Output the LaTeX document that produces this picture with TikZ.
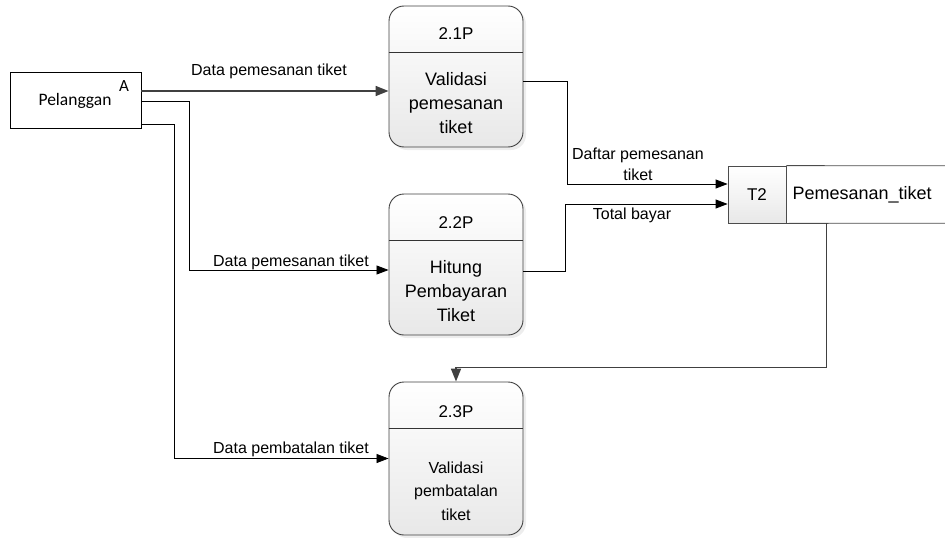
\documentclass[tikz,border=0pt]{standalone}
\usepackage{fontspec}
\setmainfont{Liberation Sans}
\newfontfamily\entityfont{Carlito}
\usetikzlibrary{arrows.meta,shadows}

\begin{document}
\begin{tikzpicture}[x=1pt,y=-1pt,
  procbox/.style={draw=black!75, line width=0.9pt, rounded corners=15pt,
    top color=white, bottom color=black!9, minimum width=134pt, inner sep=0pt,
    drop shadow={shadow xshift=3pt,shadow yshift=-3pt,fill=black!14}},
  divider/.style={draw=black!80, line width=0.9pt},
  headtxt/.style={font=\fontsize{17}{20}\selectfont, inner sep=0pt},
  bodytxt/.style={font=\fontsize{18}{24}\selectfont, align=center, inner sep=0pt},
  smallbody/.style={font=\fontsize{16}{23.5}\selectfont, align=center, inner sep=0pt},
  flowlbl/.style={font=\fontsize{16}{21}\selectfont, align=center, inner sep=0pt},
  flow/.style={draw=black, line width=0.8pt, -{Triangle[length=12pt,width=9pt]}},
  thickflow/.style={draw=black!75, line width=1.7pt, -{Triangle[length=13pt,width=10pt]}},
  entity/.style={draw=black, line width=0.8pt, minimum width=131pt, minimum height=56pt, inner sep=0pt},
  storeid/.style={draw=black!70, line width=0.8pt, top color=white, bottom color=black!9,
    minimum width=58pt, minimum height=57pt, inner sep=0pt, font=\fontsize{17}{20}\selectfont},
  storename/.style={anchor=west, minimum height=57pt, inner ysep=0pt, inner xsep=6pt,
    text width=147pt, align=left, font=\fontsize{18}{20}\selectfont},
  storeline/.style={draw=black!70, line width=0.8pt}
]
\useasboundingbox (0,0) rectangle (945,538);

% external entity
\node[entity] (pel) at (75.5,100) {};
\node[font=\entityfont\fontsize{17.5}{20}\selectfont, inner sep=0pt] (pelname) at (75,101) {Pelanggan};
\node[font=\entityfont\fontsize{17}{20}\selectfont, inner sep=0pt] (pelid) at (124,86) {A};

% processes
\node[procbox, minimum height=141pt] (p1) at (456,76.5) {};
\node[procbox, minimum height=141pt] (p2) at (456,264.5) {};
\node[procbox, minimum height=153pt] (p3) at (456,458.5) {};
\draw[divider] ([yshift=-47pt]p1.north west) -- ([yshift=-47pt]p1.north east);
\draw[divider] ([yshift=-47pt]p2.north west) -- ([yshift=-47pt]p2.north east);
\draw[divider] ([yshift=-47pt]p3.north west) -- ([yshift=-47pt]p3.north east);
\node[headtxt] (p1h) at ([yshift=-28pt]p1.north) {2.1P};
\node[headtxt] (p2h) at ([yshift=-29pt]p2.north) {2.2P};
\node[headtxt] (p3h) at ([yshift=-30pt]p3.north) {2.3P};
\node[bodytxt] (p1b) at ([yshift=-98pt]p1.north) {Validasi\\pemesanan\\tiket};
\node[bodytxt] (p2b) at ([yshift=-98pt]p2.north) {Hitung\\Pembayaran\\Tiket};
\node[smallbody] (p3b) at ([yshift=-109.5pt]p3.north) {Validasi\\pembatalan\\tiket};

% data store
\node[storeid] (ds) at (757,194.5) {T2};
\node[storename] (dsn) at (ds.east) {Pemesanan\_tiket};
\draw[storeline] (ds.north east) -- (dsn.north east);
\draw[storeline] (ds.south east) -- (dsn.south east);

% data flows
\draw[thickflow] ([yshift=9pt]pel.east) -- ([yshift=-14.5pt]p1.west);
\draw[flow] ([yshift=-1pt]pel.east) -- ++(48,0) |- ([yshift=-5.5pt]p2.west);
\draw[flow] ([yshift=-24pt]pel.east) -- ++(33,0) |- (p3.west);
\draw[flow] ([yshift=-4.5pt]p1.east) -- ++(44,0) |- ([yshift=10.5pt]ds.west);
\draw[flow] ([yshift=-6.5pt]p2.east) -- ++(42,0) |- ([yshift=-9.5pt]ds.west);
\draw[thickflow] ([xshift=40pt]dsn.south west) |- ([yshift=14pt]p3.north) -- (p3.north);

% flow labels
\node[flowlbl] (l1) at (269,71) {Data pemesanan tiket};
\node[flowlbl] (l2) at (291,262) {Data pemesanan tiket};
\node[flowlbl] (l3) at (291,449) {Data pembatalan tiket};
\node[flowlbl] (l4) at (638,164.5) {Daftar pemesanan\\tiket};
\node[flowlbl] (l5) at (632,215) {Total bayar};
\end{tikzpicture}
\end{document}
